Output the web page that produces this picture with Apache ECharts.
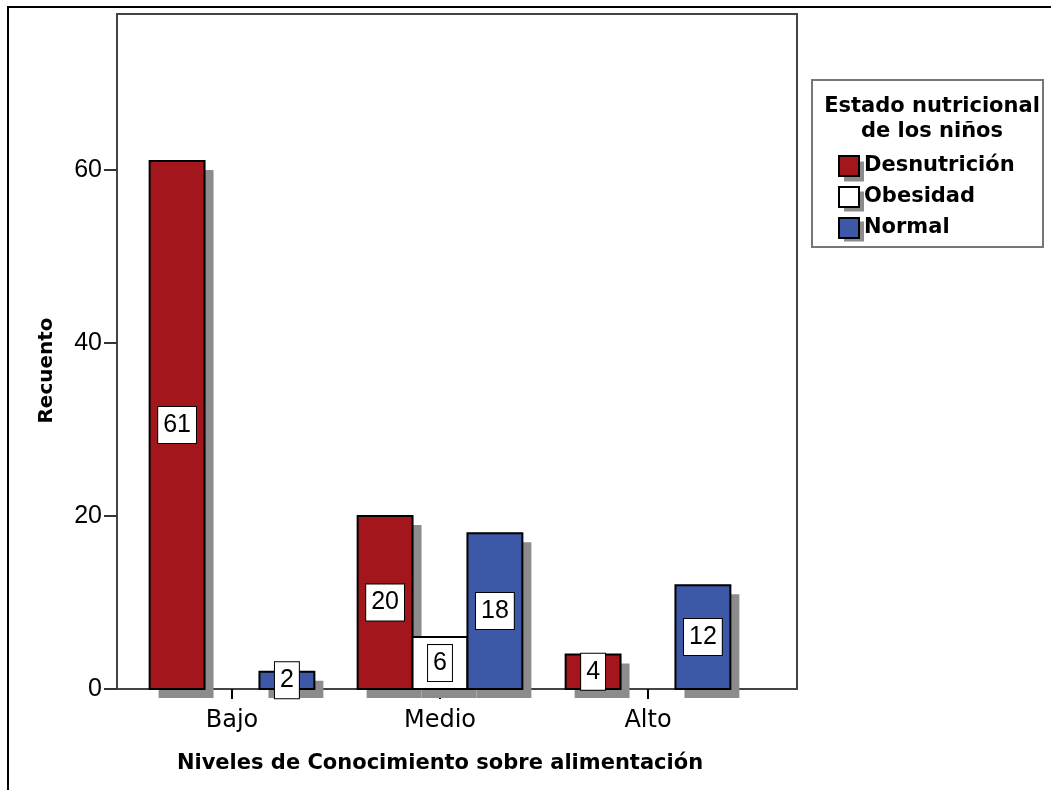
<!DOCTYPE html>
<html>
<head>
<meta charset="utf-8">
<script src="https://cdn.jsdelivr.net/npm/echarts@6/dist/echarts.min.js"></script>
<style>
html,body{margin:0;padding:0;background:#fff;}
#chart{width:1051px;height:790px;}
</style>
</head>
<body>
<div id="chart"></div>
<script>
const categories = ['Bajo', 'Medio', 'Alto'];
const seriesNames = ['Desnutrición', 'Obesidad', 'Normal'];
const desnutricion = [61, 20, 4];
const obesidad = [0, 6, 0];
const normal = [2, 18, 12];
const yTicks = [0, 20, 40, 60];
const yMax = 78;

const colors = ['#a3171c', '#ffffff', '#3d58a7'];
const values = [desnutricion, obesidad, normal];

const SHADOW = '#8c8c8c';
const numFont = 'Liberation Sans';
const txtFont = 'DejaVu Sans';

const chart = echarts.init(document.getElementById('chart'), null, {renderer: 'canvas'});

function makeRender(seriesPos, color) {
  return function (params, api) {
    const cat = api.value(0);
    const val = api.value(1);
    if (!val) return null;
    const base = api.coord([cat, 0]);
    const top = api.coord([cat, val]);
    const bandW = api.size([1, 0])[0];
    const barW = bandW * 0.264;
    const x0 = base[0] + (seriesPos - 1.5) * barW;
    const h = base[1] - top[1];
    return {
      type: 'group',
      children: [
        {type: 'rect', shape: {x: x0 + 9, y: top[1] + 9, width: barW, height: h},
         style: {fill: SHADOW}},
        {type: 'rect', shape: {x: x0, y: top[1], width: barW, height: h},
         style: {fill: color, stroke: '#000', lineWidth: 2}},
        {type: 'text', x: x0 + barW / 2, y: top[1] + h / 2, z2: 100,
         style: {text: String(val), align: 'center', verticalAlign: 'middle',
           fill: '#000', fontFamily: numFont, fontSize: 25, lineHeight: 25,
           backgroundColor: '#fff', borderColor: '#000', borderWidth: 1,
           padding: [6, 5, 5, 5]}}
      ]
    };
  };
}

const series = seriesNames.map((name, i) => ({
  name: name,
  type: 'custom',
  xAxisIndex: 1,
  yAxisIndex: 1,
  clip: false,
  encode: {x: 0, y: 1},
  itemStyle: {color: colors[i]},
  data: values[i].map((v, k) => [k, v]),
  renderItem: makeRender(i, colors[i]),
  emphasis: {disabled: true}
}));

const legendText = {
  fontFamily: txtFont,
  fontWeight: 'bold',
  fontSize: 21,
  lineHeight: 21,
  color: '#000'
};

const option = {
  backgroundColor: '#fff',
  animation: false,
  title: {
    text: 'Estado nutricional\nde los niños',
    left: 927,
    top: 89,
    textAlign: 'center',
    textStyle: {
      fontFamily: txtFont,
      fontWeight: 'bold',
      fontSize: 21,
      lineHeight: 25,
      color: '#000'
    }
  },
  legend: [
    {
      orient: 'vertical',
      left: 844,
      top: 161,
      padding: 0,
      itemWidth: 20,
      itemHeight: 20,
      itemGap: 9,
      icon: 'rect',
      data: seriesNames,
      z: 1,
      itemStyle: {color: SHADOW, borderWidth: 0},
      textStyle: Object.assign({}, legendText, {color: 'rgba(0,0,0,0)'}),
      selectedMode: false
    },
    {
      orient: 'vertical',
      left: 838,
      top: 155,
      padding: 0,
      itemWidth: 20,
      itemHeight: 20,
      itemGap: 9,
      icon: 'rect',
      data: seriesNames,
      z: 5,
      itemStyle: {borderColor: '#000', borderWidth: 2},
      textStyle: legendText,
      selectedMode: false
    }
  ],
  graphic: [
    {
      type: 'rect',
      shape: {x: 8, y: 7, width: 1200, height: 1000},
      style: {fill: 'none', stroke: '#000', lineWidth: 2},
      silent: true
    },
    {
      type: 'rect',
      shape: {x: 812, y: 80, width: 231, height: 167},
      style: {fill: 'none', stroke: '#777', lineWidth: 2},
      silent: true
    }
  ],
  grid: [
    {left: 117, top: 14, width: 680, height: 675, show: true,
     borderColor: '#444', borderWidth: 2, backgroundColor: 'transparent'},
    {left: 128, top: 14, width: 624, height: 675}
  ],
  xAxis: [
    {type: 'value', gridIndex: 0, show: false, min: 0, max: 1},
    {
      type: 'category',
      gridIndex: 1,
      data: categories,
      axisLine: {show: false},
      axisTick: {show: true, alignWithLabel: true, length: 10, lineStyle: {color: '#000', width: 2}},
      axisLabel: {fontFamily: txtFont, fontSize: 24, color: '#000', margin: 20},
      name: 'Niveles de Conocimiento sobre alimentación',
      nameLocation: 'middle',
      nameGap: 64,
      nameTextStyle: {fontFamily: txtFont, fontWeight: 'bold', fontSize: 21, color: '#000'}
    }
  ],
  yAxis: [
    {
      type: 'value',
      gridIndex: 0,
      min: 0,
      max: yMax,
      interval: 20,
      axisLine: {show: false},
      axisTick: {show: true, length: 13, lineStyle: {color: '#333', width: 2},
        customValues: yTicks},
      axisLabel: {fontFamily: numFont, fontSize: 25, color: '#000', margin: 15,
        customValues: yTicks},
      splitLine: {show: false},
      name: 'Recuento',
      nameLocation: 'middle',
      nameRotate: 90,
      nameGap: 60,
      nameTextStyle: {fontFamily: txtFont, fontWeight: 'bold', fontSize: 20, color: '#000',
        padding: [0, 38, 0, 0]}
    },
    {type: 'value', gridIndex: 1, min: 0, max: yMax, show: false, splitLine: {show: false}}
  ],
  series: series
};

chart.setOption(option);
</script>
</body>
</html>
